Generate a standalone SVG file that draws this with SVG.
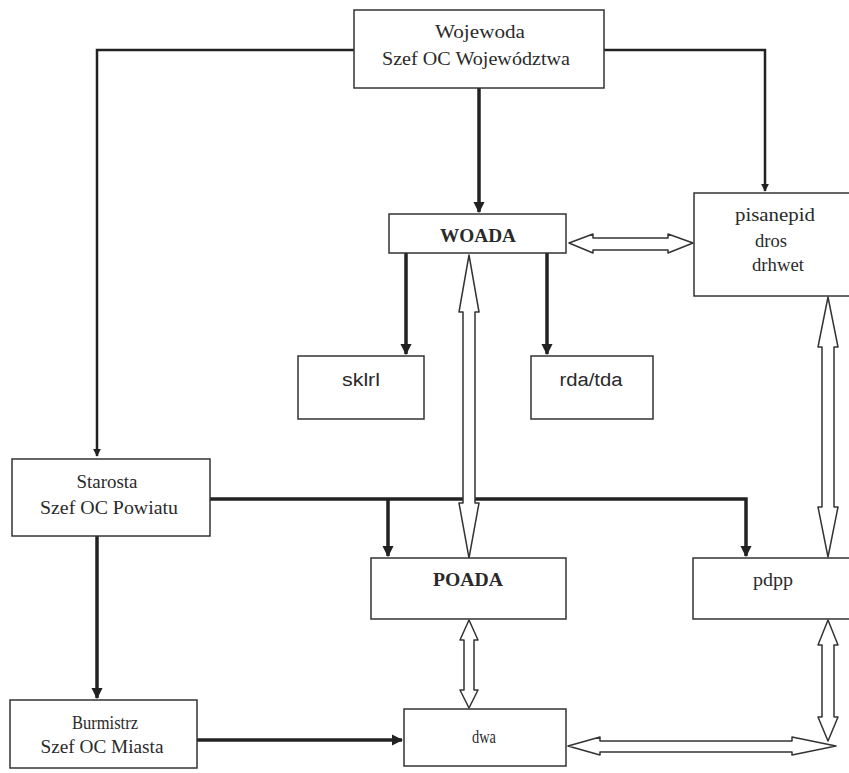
<svg xmlns="http://www.w3.org/2000/svg" width="849" height="773" viewBox="0 0 849 773">
<defs>
<marker id="ah" viewBox="0 0 10 10" refX="9" refY="5" markerWidth="3.2" markerHeight="3.2" orient="auto" markerUnits="strokeWidth">
<path d="M0,0 L10,5 L0,10 z" fill="#222"/>
</marker>
<style>
.box{fill:#fff;stroke:#333;stroke-width:1.5}
.t{font-family:"Liberation Serif","Times New Roman",serif;font-size:19px;fill:#2a2a2a;text-anchor:middle}
.b{font-weight:bold;font-size:18px}
.s{font-family:"Liberation Sans",Arial,sans-serif;font-size:18px}
.ln{fill:none;stroke:#222;stroke-width:3.5;marker-end:url(#ah)}
.thin{stroke-width:2.5}
.dbl{fill:#fff;stroke:#333;stroke-width:1.5;stroke-linejoin:round}
</style>
</defs>
<rect width="849" height="773" fill="#fff"/>

<g id="connectors">
<path class="ln thin" d="M354,50 H97 V456"/>
<path class="ln thin" d="M604,50 H765 V191"/>
<path class="ln" d="M479,88 V212"/>
<path class="ln" d="M406,253 V354"/>
<path class="ln" d="M547,253 V354"/>
<path class="ln" d="M210,499 H746 V556"/>
<path class="ln" d="M388,499 V556"/>
<path class="ln" d="M97,536 V698"/>
<path class="ln" d="M197,740 H402"/>
<polygon class="dbl" points="569,243 593,234 593,238 668,238 668,234 693,243 668,253 668,250 593,250 593,253"/>
<polygon class="dbl" points="469,255 479,312 475,312 475,503 479,503 469,558 459,503 463,503 463,312 459,312"/>
<polygon class="dbl" points="828,297 838,347 834,347 834,507 838,507 828,557 818,507 822,507 822,347 818,347"/>
<polygon class="dbl" points="469,620 478,640 474,640 474,690 478,690 469,708 460,690 464,690 464,640 460,640"/>
<polygon class="dbl" points="828,620 838,645 834,645 834,717 838,717 828,741 818,717 822,717 822,645 818,645"/>
<polygon class="dbl" points="568,746 600,737 600,741 792,741 792,737 836,746 792,755 792,752 600,752 600,755"/>
</g>

<g id="wojewoda">
<rect class="box" x="354" y="10" width="250" height="78"/>
<text class="t" x="480" y="38" textLength="90" lengthAdjust="spacingAndGlyphs">Wojewoda</text>
<text class="t" x="476" y="65" textLength="188" lengthAdjust="spacingAndGlyphs">Szef OC Województwa</text>
</g>

<g id="woada">
<rect class="box" x="389" y="214" width="177" height="39"/>
<text class="t b" x="478" y="242" textLength="76" lengthAdjust="spacingAndGlyphs">WOADA</text>
</g>

<g id="pisanepid">
<rect class="box" x="694" y="193" width="160" height="103"/>
<text class="t" x="775" y="221" textLength="80" lengthAdjust="spacingAndGlyphs">pisanepid</text>
<text class="t" x="771" y="247" textLength="32" lengthAdjust="spacingAndGlyphs">dros</text>
<text class="t" x="778" y="271" textLength="52" lengthAdjust="spacingAndGlyphs">drhwet</text>
</g>

<g id="sklrl">
<rect class="box" x="298" y="356" width="126" height="63"/>
<text class="t s" x="361" y="386" textLength="38" lengthAdjust="spacingAndGlyphs">sklrl</text>
</g>

<g id="rdatda">
<rect class="box" x="531" y="356" width="122" height="63"/>
<text class="t s" x="591" y="386" textLength="63" lengthAdjust="spacingAndGlyphs">rda/tda</text>
</g>

<g id="starosta">
<rect class="box" x="12" y="459" width="198" height="77"/>
<text class="t" x="107" y="488" textLength="61" lengthAdjust="spacingAndGlyphs">Starosta</text>
<text class="t" x="109" y="514" textLength="138" lengthAdjust="spacingAndGlyphs">Szef OC Powiatu</text>
</g>

<g id="poada">
<rect class="box" x="371" y="558" width="195" height="61"/>
<text class="t b" x="468" y="586" textLength="70" lengthAdjust="spacingAndGlyphs">POADA</text>
</g>

<g id="pdpp">
<rect class="box" x="693" y="558" width="160" height="61"/>
<text class="t" x="773" y="586" textLength="40" lengthAdjust="spacingAndGlyphs">pdpp</text>
</g>

<g id="burmistrz">
<rect class="box" x="10" y="700" width="187" height="68"/>
<text class="t" x="105" y="729" textLength="66" lengthAdjust="spacingAndGlyphs">Burmistrz</text>
<text class="t" x="102" y="753" textLength="123" lengthAdjust="spacingAndGlyphs">Szef OC Miasta</text>
</g>

<g id="dwa">
<rect class="box" x="404" y="709" width="162" height="57"/>
<text class="t" x="484" y="743" textLength="24" lengthAdjust="spacingAndGlyphs">dwa</text>
</g>
</svg>
